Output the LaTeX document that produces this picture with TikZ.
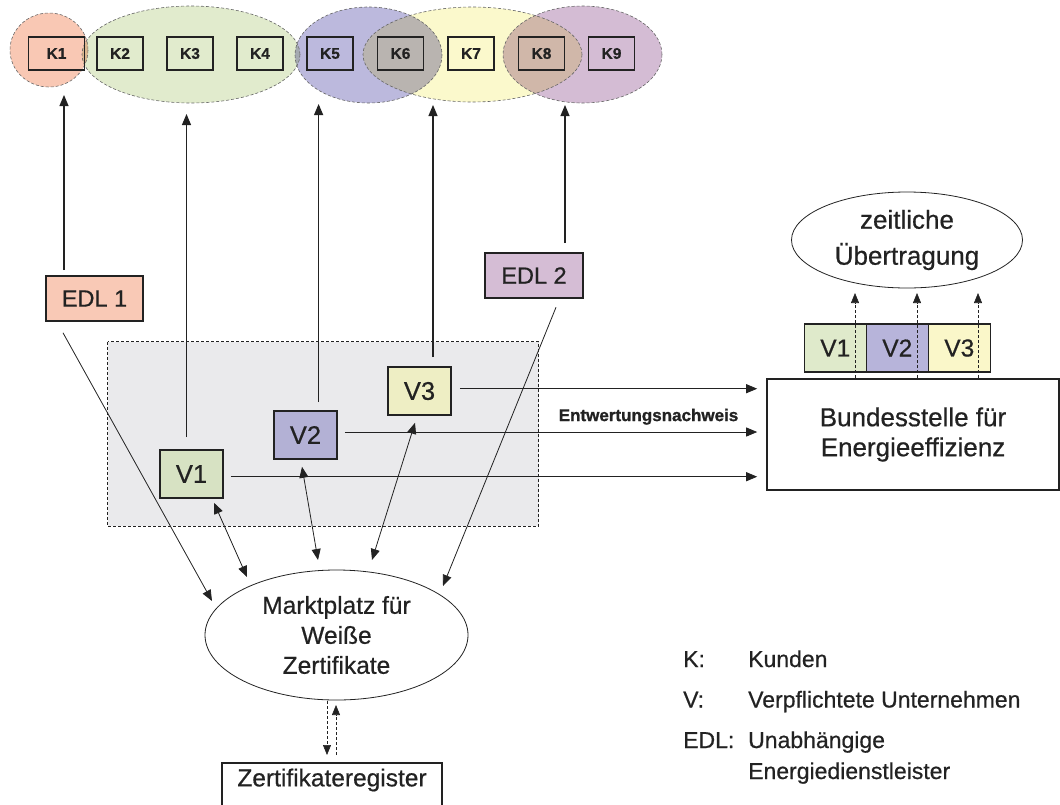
\documentclass[tikz,border=0pt]{standalone}
\usepackage{fontspec}
\setmainfont{Liberation Sans}[FakeBold=0.6]
\newfontfamily\heavy{Liberation Sans}[FakeBold=1.2]
\usetikzlibrary{arrows.meta,shapes.geometric,calc}
\definecolor{cred}{HTML}{F9C8B4}
\definecolor{cgreen}{HTML}{E1EBCD}
\definecolor{cblue}{HTML}{BCB9DD}
\definecolor{cyellow}{HTML}{FBF9CC}
\definecolor{cmauve}{HTML}{D4BCD4}
\definecolor{edlA}{HTML}{F9C9B6}
\definecolor{edlB}{HTML}{D5BDD5}
\definecolor{vA}{HTML}{D7E2C3}
\definecolor{vB}{HTML}{B3B1D5}
\definecolor{vC}{HTML}{EEEEC4}
\definecolor{svA}{HTML}{DFEACB}
\definecolor{svB}{HTML}{B7B4DA}
\definecolor{svC}{HTML}{FAF7C9}
\definecolor{zone}{HTML}{EAEAEC}
\definecolor{ink}{HTML}{222222}
\begin{document}
\begin{tikzpicture}[x=1pt,y=-1pt,
  every node/.style={text=ink},
  kbox/.style={draw=ink,line width=1.4pt,minimum width=46,minimum height=33,inner sep=0pt,font=\fontsize{15.5}{18}\selectfont\bfseries},
  vbox/.style={draw=ink,line width=1.6pt,minimum width=63,minimum height=48,inner sep=0pt,font=\fontsize{25.5}{30}\selectfont},
  svbox/.style={draw=ink,line width=1.4pt,minimum width=62,minimum height=48,inner sep=0pt,font=\fontsize{24.5}{30}\selectfont},
  edlbox/.style={draw=ink,line width=1.6pt,minimum width=97,minimum height=45,inner sep=0pt,font=\fontsize{23.5}{28}\selectfont},
  arr/.style={-{Triangle[length=11pt,width=9pt]},line width=0.8pt,draw=ink},
  uparr/.style={-{Triangle[length=11pt,width=9pt]},line width=1.1pt,draw=ink},
  biarr/.style={{Triangle[length=11pt,width=9pt]}-{Triangle[length=11pt,width=9pt]},line width=0.8pt,draw=ink},
  dasharr/.style={-{Triangle[length=10pt,width=8pt]},line width=0.6pt,draw=ink,dash pattern=on 3pt off 2pt},
  grayarr/.style={-{Triangle[length=10pt,width=8pt]},line width=0.6pt,draw=ink,dash pattern=on 3pt off 2pt},
  elldash/.style={draw=gray!80!black,line width=0.6pt,dash pattern=on 3pt off 2pt},
  legend/.style={anchor=base west,inner sep=0pt,font=\fontsize{23}{28}\selectfont}
]
\useasboundingbox (0,0) rectangle (1060,804);

% customer groups
\begin{scope}[blend group=multiply]
  \fill[cred] (49,50) ellipse [x radius=39, y radius=37];
  \fill[cgreen] (191,54.5) ellipse [x radius=109, y radius=48.5];
  \fill[cblue] (368.5,55) ellipse [x radius=73.5, y radius=48];
  \fill[cyellow] (472.5,54.5) ellipse [x radius=109.5, y radius=47.5];
  \fill[cmauve] (582.5,54.5) ellipse [x radius=79.5, y radius=48.5];
\end{scope}
\draw[elldash] (49,50) ellipse [x radius=39, y radius=37];
\draw[elldash] (191,54.5) ellipse [x radius=109, y radius=48.5];
\draw[elldash] (368.5,55) ellipse [x radius=73.5, y radius=48];
\draw[elldash] (472.5,54.5) ellipse [x radius=109.5, y radius=47.5];
\draw[elldash] (582.5,54.5) ellipse [x radius=79.5, y radius=48.5];

\node[kbox,minimum width=56] (K1) at (56.5,53.5) {K1};
\node[kbox] (K2) at (120,53.5) {K2};
\node[kbox] (K3) at (190,53.5) {K3};
\node[kbox] (K4) at (260,53.5) {K4};
\node[kbox] (K5) at (330,53.5) {K5};
\node[kbox] (K6) at (400.5,53.5) {K6};
\node[kbox] (K7) at (471,53.5) {K7};
\node[kbox] (K8) at (541.5,53.5) {K8};
\node[kbox] (K9) at (611.5,53.5) {K9};

% zone of obliged companies
\draw[fill=zone,draw=ink,line width=0.6pt,dash pattern=on 3pt off 2pt] (107.5,341.5) rectangle (538.5,526);

% actors
\node[edlbox,fill=edlA] (EDL1) at (94.5,298.5) {EDL 1};
\node[edlbox,fill=edlB,minimum width=98] (EDL2) at (534,275.5) {EDL 2};
\node[vbox,fill=vA] (V1) at (191.5,474) {V1};
\node[vbox,fill=vB] (V2) at (305.5,435) {V2};
\node[vbox,fill=vC] (V3) at (419.5,391) {V3};

% targets of the up arrows
\coordinate (t1) at (64,95);
\coordinate (t2) at (186.5,114);
\coordinate (t3) at (318.6,104);
\coordinate (t4) at (433,105);
\coordinate (t5) at (565,105);
\draw[uparr,shorten <=5pt] (EDL1.north -| t1) -- (t1);
\draw[uparr,shorten <=12pt] (V1.north -| t2) -- (t2);
\draw[uparr,shorten <=8pt] (V2.north -| t3) -- (t3);
\draw[uparr,shorten <=9pt] (V3.north -| t4) -- (t4);
\draw[uparr,shorten <=9pt] (EDL2.north -| t5) -- (t5);

% Bundesstelle
\node[draw=ink,line width=1.6pt,minimum width=292,minimum height=111,inner sep=0pt,align=center,
      font=\fontsize{26}{30}\selectfont] (B) at (913,434.5) {Bundesstelle für\\Energieeffizienz};
\coordinate (a3) at ($(V3.east)+(0,-2.3)$);
\coordinate (a2) at ($(V2.east)+(0,-3)$);
\coordinate (a1) at ($(V1.east)+(0,2.7)$);
\draw[arr,shorten <=8pt,shorten >=9pt] (a3) -- (a3 -| B.west);
\draw[arr,shorten <=7pt,shorten >=9pt] (a2) -- (a2 -| B.west);
\draw[arr,shorten <=7pt,shorten >=9pt] (a1) -- (a1 -| B.west);
\node[font=\fontsize{17}{20}\heavy\bfseries,inner sep=0pt] (EN) at (648.5,416.7) {Entwertungsnachweis};

% transfer over time
\node[svbox,fill=svA] (sV1) at (835.3,348) {V1};
\node[svbox,fill=svB] (sV2) at (897.3,348) {V2};
\node[svbox,fill=svC] (sV3) at (959.3,348) {V3};
\node[draw=ink,line width=0.8pt,ellipse,minimum width=231,minimum height=96,inner sep=0pt,align=center,
      font=\fontsize{26}{36}\selectfont] (ZU) at (907,240) {zeitliche\\Übertragung};
\coordinate (u1) at (855,293);
\coordinate (u2) at (917,293);
\coordinate (u3) at (978,293);
\draw[grayarr] (B.north -| u1) -- (u1);
\draw[grayarr] (B.north -| u2) -- (u2);
\draw[grayarr] (B.north -| u3) -- (u3);

% market place
\node[draw=ink,line width=0.8pt,ellipse,minimum width=263,minimum height=130,inner sep=0pt,align=center,
      font=\fontsize{24.5}{30}\selectfont] (M) at (336.5,635) {Marktplatz für\\Weiße\\Zertifikate};
\coordinate (m1) at (212,601);
\coordinate (m2) at (247,577);
\coordinate (m3) at (318,560);
\coordinate (m4) at (372,560);
\coordinate (m5) at (443,586);
\draw[arr] ($(EDL1.south)+(-31.5,11)$) -- (m1);
\draw[biarr] ($(V1.south)+(22.5,4)$) -- (m2);
\draw[biarr] ($(V2.south)+(-3.5,7)$) -- (m3);
\draw[biarr] ($(V3.south)+(-4.5,7)$) -- (m4);
\draw[arr] ($(EDL2.south)+(22,8.5)$) -- (m5);

% certificate register
\node[inner sep=0pt,font=\fontsize{24.5}{30}\selectfont] (Z) at (332,780) {Zertifikateregister};
\draw[draw=ink,line width=1.6pt] ($(Z.center)+(-110,-17)$) rectangle ($(Z.center)+(110,40)$);
\coordinate (z1) at (327,755);
\coordinate (z2) at (336,705);
\draw[dasharr] (M.south -| z1) ++(0,1) -- (z1);
\draw[dasharr] (z1 -| z2) -- (z2);

% legend
\node[legend] (LK) at (683,667) {K:};
\node[legend] (LKt) at (748,667) {Kunden};
\node[legend] (LV) at (683,707.5) {V:};
\node[legend] (LVt) at (748,707.5) {Verpflichtete Unternehmen};
\node[legend] (LE) at (683,748) {EDL:};
\node[legend] (LEt) at (748,748) {Unabhängige};
\node[legend] (LEt2) at (748,779) {Energiedienstleister};
\end{tikzpicture}
\end{document}
